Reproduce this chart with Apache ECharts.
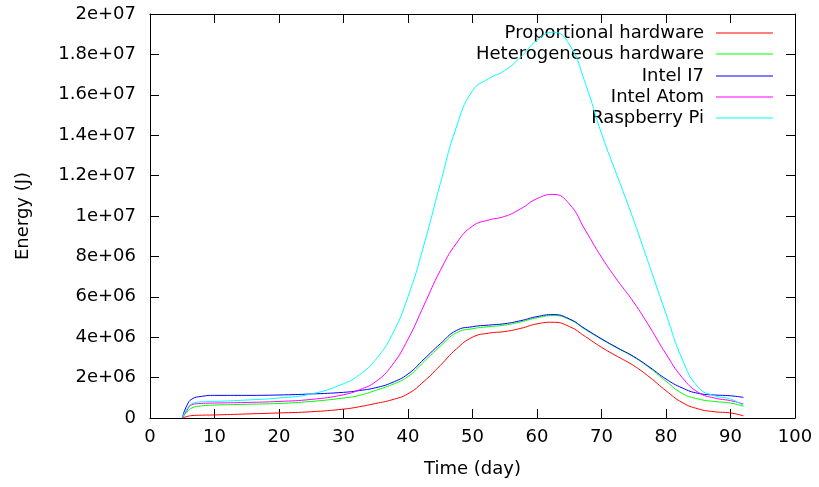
<!DOCTYPE html>
<html>
<head>
<meta charset="utf-8">
<script src="https://cdn.jsdelivr.net/npm/echarts@6/dist/echarts.min.js"></script>
<style>
  html, body { margin: 0; padding: 0; background: #fff; }
  #chart { width: 819px; height: 487px; }
</style>
</head>
<body>
<div id="chart"></div>
<script>
// sample days (x)
const days = [5, 5.7, 6.5, 8, 10, 15, 20, 25, 30, 32.5, 35, 37.5, 40, 42.5, 45, 47.5, 50, 52.5, 55, 57.5, 60,
  62.5, 65, 67.5, 70, 72.5, 75, 77.5, 80, 82.5, 85, 87.5, 90, 92]

// energy in millions of joules
const proportional = [0, 0.07, 0.12, 0.14, 0.15, 0.2, 0.25, 0.31, 0.44, 0.56, 0.72, 0.9, 1.2, 1.82, 2.6, 3.42, 4.0, 4.2, 4.28, 4.44, 4.66,
  4.74, 4.53, 4.03, 3.5, 3.04, 2.59, 2.01, 1.35, 0.77, 0.45, 0.31, 0.25, 0.11]
const heterogeneous = [0, 0.28, 0.5, 0.6, 0.64, 0.68, 0.72, 0.82, 0.99, 1.12, 1.37, 1.65, 2.05, 2.8, 3.55, 4.22, 4.42, 4.52, 4.6, 4.76, 4.96,
  5.07, 4.88, 4.38, 3.9, 3.45, 3.02, 2.47, 1.82, 1.22, 0.94, 0.82, 0.74, 0.58]
const intelI7 = [0, 0.61, 0.94, 1.07, 1.12, 1.12, 1.14, 1.19, 1.27, 1.36, 1.5, 1.75, 2.18, 2.92, 3.67, 4.33, 4.52, 4.6, 4.67, 4.82, 5.02,
  5.12, 4.91, 4.41, 3.92, 3.47, 3.04, 2.51, 1.93, 1.49, 1.22, 1.14, 1.1, 1.02]
const intelAtom = [0, 0.36, 0.66, 0.72, 0.74, 0.77, 0.82, 0.92, 1.15, 1.4, 1.8, 2.6, 3.9, 5.6, 7.3, 8.65, 9.5, 9.8, 9.98, 10.36, 10.86,
  11.07, 10.6, 9.29, 7.96, 6.8, 5.73, 4.49, 3.17, 2.01, 1.27, 0.99, 0.86, 0.69]
const raspberryPi = [0, 0.44, 0.7, 0.8, 0.82, 0.89, 0.99, 1.19, 1.7, 2.15, 2.9, 4.1, 6.0, 8.6, 11.6, 14.4, 16.2, 16.8, 17.2, 17.88, 18.7,
  19.1, 18.5, 16.56, 14.08, 11.93, 9.78, 7.47, 5.16, 2.92, 1.52, 1.1, 0.94, 0.61]

const seriesNames = ['Proportional hardware', 'Heterogeneous hardware', 'Intel I7', 'Intel Atom', 'Raspberry Pi']
const seriesValues = [proportional, heterogeneous, intelI7, intelAtom, raspberryPi]
const seriesColors = ['#ff0000', '#00ff00', '#0000ff', '#ff00ff', '#00ffff']

const yTickLabels = ['0', '2e+06', '4e+06', '6e+06', '8e+06', '1e+07', '1.2e+07', '1.4e+07', '1.6e+07', '1.8e+07', '2e+07']

const MEGA = 1e6
const FONT = 'DejaVu Sans'
const FS = 18

const chart = echarts.init(document.getElementById('chart'))

// gnuplot style frame: inward ticks, mirrored on top / right
const tickStyle = { show: true, inside: true, length: 9, lineStyle: { color: '#000', width: 1 } }
const lineStyle = { show: true, onZero: false, lineStyle: { color: '#000', width: 1 } }

const xBase = {
  type: 'value', min: 0, max: 100, interval: 10,
  axisLine: lineStyle, axisTick: tickStyle, splitLine: { show: false }
}
const yBase = {
  type: 'value', min: 0, max: 2e7, interval: 2e6,
  axisLine: lineStyle, axisTick: tickStyle, splitLine: { show: false }
}

const series = seriesNames.map((name, i) => ({
  name: name,
  type: 'line',
  data: days.map((d, j) => [d, seriesValues[i][j] * MEGA]),
  showSymbol: false,
  symbol: 'none',
  smooth: 0.5,
  lineStyle: { color: seriesColors[i], width: 1 },
  itemStyle: { color: seriesColors[i] },
  z: 2 + i
}))

// one legend per entry so that the texts line up on the right like gnuplot's key
const rowTops = [23, 44, 66, 87, 108]
const legends = seriesNames.map((name, i) => ({
  data: [name],
  right: 46,
  top: rowTops[i],
  orient: 'vertical',
  align: 'right',
  padding: 0,
  icon: 'rect',
  itemWidth: 57,
  itemHeight: 1.2,
  selectedMode: false,
  textStyle: { fontFamily: FONT, fontSize: FS, color: '#000', padding: [0, 7, 0, 0], lineHeight: 20 }
}))

const option = {
  backgroundColor: '#fff',
  animation: false,
  grid: { left: 150, right: 24, top: 14, bottom: 69, containLabel: false },
  legend: legends,
  xAxis: [
    Object.assign({}, xBase, {
      position: 'bottom',
      name: 'Time (day)',
      nameLocation: 'middle',
      nameGap: 42,
      nameTextStyle: { fontFamily: FONT, fontSize: FS, color: '#000' },
      axisLabel: { fontFamily: FONT, fontSize: FS, color: '#000', margin: 10 }
    }),
    Object.assign({}, xBase, { position: 'top', axisLabel: { show: false } })
  ],
  yAxis: [
    Object.assign({}, yBase, {
      position: 'left',
      name: 'Energy (J)',
      nameLocation: 'middle',
      nameGap: 118,
      nameTextStyle: { fontFamily: FONT, fontSize: FS, color: '#000' },
      axisLabel: {
        fontFamily: FONT, fontSize: FS, color: '#000', margin: 14,
        formatter: (v) => yTickLabels[Math.round(v / 2e6)]
      }
    }),
    Object.assign({}, yBase, { position: 'right', axisLabel: { show: false } })
  ],
  series: series
}

chart.setOption(option)
</script>
</body>
</html>
